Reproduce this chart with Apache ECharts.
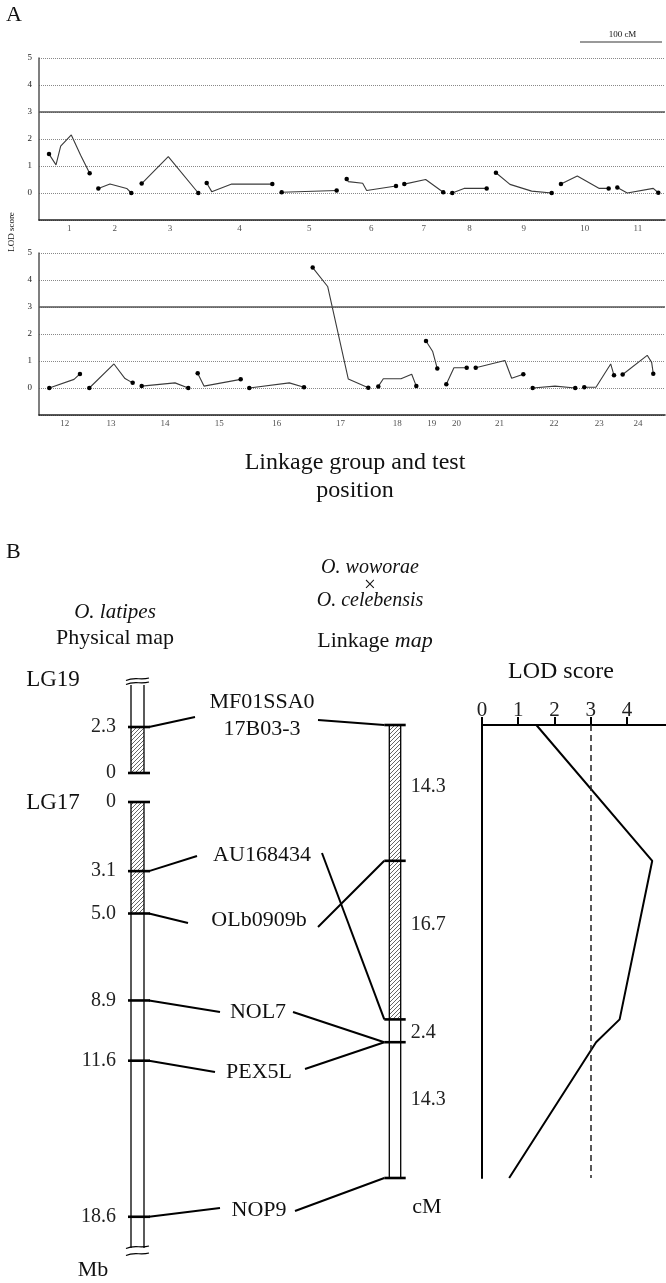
<!DOCTYPE html>
<html>
<head>
<meta charset="utf-8">
<script src="https://cdn.jsdelivr.net/npm/echarts@6/dist/echarts.min.js"></script>
<style>
  html, body { margin: 0; padding: 0; background: #fff; }
  #chart { width: 666px; height: 1283px; }
</style>
</head>
<body>
<div id="chart"></div>
<script>
// ---------- panel A: LOD profile along each linkage group, [test position (cM), LOD] ----------
const groupsTop = ['1', '2', '3', '4', '5', '6', '7', '8', '9', '10', '11'];
const groupsBottom = ['12', '13', '14', '15', '16', '17', '18', '19', '20', '21', '22', '23', '24'];

const lodTop = [
  [[11.8, 1.44], [20.0, 1.04], [25.5, 1.74], [38.0, 2.15], [49.0, 1.40], [59.6, 0.73]],
  [[69.8, 0.17], [83.5, 0.33], [103.2, 0.17], [108.6, 0.0]],
  [[120.8, 0.35], [152.1, 1.35], [187.4, 0.0]],
  [[197.3, 0.37], [203.2, 0.05], [226.7, 0.33], [274.5, 0.33]],
  [[285.5, 0.03], [350.2, 0.09]],
  [[362.0, 0.52], [363.9, 0.42], [380.8, 0.36], [385.5, 0.09], [420.0, 0.26]],
  [[429.8, 0.33], [454.9, 0.50], [475.6, 0.03]],
  [[486.2, 0.0], [500.0, 0.17], [526.7, 0.17]],
  [[537.6, 0.75], [554.1, 0.32], [579.6, 0.07], [603.2, 0.0]],
  [[614.1, 0.33], [633.3, 0.63], [659.2, 0.17], [670.2, 0.17]],
  [[680.4, 0.20], [692.1, 0.0], [722.7, 0.17], [728.6, 0.01]]
];

const lodBottom = [
  [[12.1, 0.0], [41.2, 0.32], [48.2, 0.52]],
  [[59.2, 0.0], [88.2, 0.89], [101.2, 0.35], [110.2, 0.19]],
  [[120.8, 0.07], [160.0, 0.19], [175.6, 0.0]],
  [[186.7, 0.55], [194.1, 0.07], [237.3, 0.32]],
  [[247.4, 0.0], [294.5, 0.19], [311.8, 0.03]],
  [[322.0, 4.46], [339.6, 3.76], [363.9, 0.33], [387.4, 0.01]],
  [[399.2, 0.06], [405.1, 0.34], [425.9, 0.34], [438.5, 0.51], [443.9, 0.07]],
  [[455.3, 1.74], [463.2, 1.35], [468.6, 0.72]],
  [[479.2, 0.14], [488.2, 0.75], [503.2, 0.75]],
  [[513.8, 0.75], [548.2, 1.02], [556.1, 0.36], [569.8, 0.51]],
  [[580.8, 0.0], [607.1, 0.07], [630.9, 0.0]],
  [[641.5, 0.03], [655.3, 0.03], [672.6, 0.89], [676.5, 0.47]],
  [[686.7, 0.50], [715.6, 1.21], [720.8, 0.95], [722.7, 0.53]]
];
const genomeCM = 736.5;       // total map length drawn across panel A
const scaleBarCM = 100;
const lodThreshold = 3;

// ---------- panel B: physical map (Mb) vs linkage map (cM) ----------
const lg19Span = [0, 4.4];
const lg19Hatch = [0, 2.3];
const lg19Ticks = [0, 2.3];
const lg17Span = [0, 20];
const lg17Hatch = [0, 5.0];
const lg17Ticks = [0, 3.1, 5.0, 8.9, 11.6, 18.6];

const markerNames = ['MF01SSA0\n17B03-3', 'AU168434', 'OLb0909b', 'NOL7', 'PEX5L', 'NOP9'];
const markerChrom = ['LG19', 'LG17', 'LG17', 'LG17', 'LG17', 'LG17'];
const markerMb = [2.3, 3.1, 5.0, 8.9, 11.6, 18.6];
const markerCM = [0, 31.0, 14.3, 33.4, 33.4, 47.7];

const linkSpan = [0, 47.7];
const linkHatch = [0, 31.0];
const linkTicks = [0, 14.3, 31.0, 33.4, 47.7];

const lodCM = [0, 14.3, 31.0, 33.4, 47.7];
const lodScore = [1.5, 4.7, 3.8, 3.15, 0.75];
const lodAxisTicks = [0, 1, 2, 3, 4];

// ---------- layout ----------
const FONT = '"Liberation Serif", "Times New Roman", serif';
const physBarW = 13;
const linkBarW = 11.4;
// name label centre and the two connector anchors next to it
const nameLayout = [
  {cx: 262, cy: 716, lx: 195, ly: 717, rx: 318, ry: 720},
  {cx: 262, cy: 855, lx: 197, ly: 856, rx: 322, ry: 853},
  {cx: 259, cy: 920, lx: 188, ly: 923, rx: 318, ry: 927},
  {cx: 258, cy: 1012, lx: 220, ly: 1012, rx: 293, ry: 1012},
  {cx: 259, cy: 1072, lx: 215, ly: 1072, rx: 305, ry: 1069},
  {cx: 259, cy: 1210, lx: 220, ly: 1208, rx: 295, ry: 1211}
];
const intervalShift = [-6, -15, 2, -10];

// hatch pattern for the shaded chromosome parts
const hatch = (function () {
  const c = document.createElement('canvas');
  c.width = 4; c.height = 4;
  const g = c.getContext('2d');
  g.strokeStyle = '#555';
  g.lineWidth = 0.9;
  g.beginPath();
  g.moveTo(0, 4); g.lineTo(4, 0);
  g.moveTo(-1, 1); g.lineTo(1, -1);
  g.moveTo(3, 5); g.lineTo(5, 3);
  g.stroke();
  return {image: c, repeat: 'repeat'};
})();

function mid(g) {
  return (g[0][0] + g[g.length - 1][0]) / 2;
}

function profileSeries(groups, names, idx) {
  let out = [];
  groups.forEach(g => {
    out.push({
      type: 'line', xAxisIndex: idx, yAxisIndex: idx, data: g,
      symbol: 'circle', showAllSymbol: true,
      symbolSize: (v, p) => (p.dataIndex === 0 || p.dataIndex === g.length - 1) ? 4.5 : 0,
      lineStyle: {color: '#3a3a3a', width: 1.1},
      itemStyle: {color: '#000'},
      silent: true, animation: false, z: 3
    });
  });
  // group names under the axis + the LOD 3 threshold line
  out.push({
    type: 'scatter', xAxisIndex: idx, yAxisIndex: idx,
    data: groups.map((g, i) => ({name: names[i], value: [mid(g), -1]})),
    symbolSize: 1, itemStyle: {color: 'rgba(0,0,0,0)'},
    label: {show: true, position: 'bottom', distance: 4, formatter: '{b}', fontSize: 9, color: '#222', fontFamily: FONT},
    silent: true, animation: false,
    markLine: {
      silent: true, symbol: 'none', animation: false, label: {show: false},
      lineStyle: {color: '#555', width: 1.6, type: 'solid'},
      data: [{yAxis: lodThreshold}]
    }
  });
  return out;
}

function chromSeries(gi, span, hatchRange, barW) {
  let segs = [[hatchRange[0], hatchRange[1], 1]];
  if (span[1] > hatchRange[1]) segs.push([hatchRange[1], span[1], 0]);
  return {
    type: 'custom', xAxisIndex: gi, yAxisIndex: gi, data: segs, silent: true, animation: false, clip: false,
    renderItem: (params, api) => {
      const a = api.coord([0.5, api.value(0)]);
      const b = api.coord([0.5, api.value(1)]);
      const x = a[0] - barW / 2, y = Math.min(a[1], b[1]), h = Math.abs(b[1] - a[1]);
      return {
        type: 'group', children: [
          {type: 'rect', shape: {x: x, y: y, width: barW, height: h}, style: {fill: api.value(2) ? hatch : '#fff'}},
          {type: 'line', shape: {x1: x, y1: y, x2: x, y2: y + h}, style: {stroke: '#000', lineWidth: 1.3}},
          {type: 'line', shape: {x1: x + barW, y1: y, x2: x + barW, y2: y + h}, style: {stroke: '#000', lineWidth: 1.3}}
        ]
      };
    }
  };
}

function tickSeries(gi, ticks, barW, extL, extR, labelGap) {
  return {
    type: 'custom', xAxisIndex: gi, yAxisIndex: gi, data: ticks.map(t => [t]), silent: true, animation: false, clip: false, z: 4,
    renderItem: (params, api) => {
      const v = api.value(0);
      const p = api.coord([0.5, v]);
      let ch = [{type: 'line', shape: {x1: p[0] - barW / 2 - extL, y1: p[1], x2: p[0] + barW / 2 + extR, y2: p[1]}, style: {stroke: '#000', lineWidth: 2.6}}];
      if (labelGap != null) {
        ch.push({type: 'text', x: p[0] - barW / 2 - labelGap, y: p[1],
          style: {text: v === 0 ? '0' : v.toFixed(1), align: 'right', verticalAlign: 'middle', font: '20px ' + FONT, fill: '#222'}});
      }
      return {type: 'group', children: ch};
    }
  };
}

function breakSeries(gi, pos, barW, offs) {
  return {
    type: 'custom', xAxisIndex: gi, yAxisIndex: gi, data: [[pos]], silent: true, animation: false, clip: false, z: 5,
    renderItem: (params, api) => {
      const p = api.coord([0.5, api.value(0)]);
      const w = barW / 2 + 5;
      return {
        type: 'group', children: offs.map(o => ({
          type: 'bezierCurve',
          shape: {x1: p[0] - w, y1: p[1] + o + 1.5, cpx1: p[0] - 3, cpy1: p[1] + o - 2.5, cpx2: p[0] + 3, cpy2: p[1] + o + 1.5, x2: p[0] + w, y2: p[1] + o - 1},
          style: {stroke: '#000', lineWidth: 1.2, fill: null}
        }))
      };
    }
  };
}

function intervalSeries(gi, ticks, barW) {
  let data = [];
  for (let i = 0; i < ticks.length - 1; i++) data.push([(ticks[i] + ticks[i + 1]) / 2, ticks[i + 1] - ticks[i]]);
  return {
    type: 'custom', xAxisIndex: gi, yAxisIndex: gi, data: data, silent: true, animation: false, clip: false,
    renderItem: (params, api) => {
      const p = api.coord([0.5, api.value(0)]);
      return {type: 'text', x: p[0] + barW / 2 + 10, y: p[1] + intervalShift[params.dataIndex],
        style: {text: api.value(1).toFixed(1), align: 'left', verticalAlign: 'middle', font: '20px ' + FONT, fill: '#222'}};
    }
  };
}

function profileX(gi) {
  return {gridIndex: gi, type: 'value', min: 0, max: genomeCM,
    axisLine: {show: true, onZero: false, lineStyle: {color: '#222', width: 1.6}},
    axisTick: {show: false}, axisLabel: {show: false}, splitLine: {show: false}};
}
function profileY(gi) {
  return {gridIndex: gi, type: 'value', min: -1, max: 5, interval: 1,
    axisLine: {show: true, lineStyle: {color: '#555', width: 1.5}},
    axisTick: {show: false},
    axisLabel: {fontSize: 9, color: '#222', fontFamily: FONT, margin: 7, formatter: v => v < 0 ? '' : String(v)},
    splitLine: {show: true, lineStyle: {color: '#888', type: 'dotted', width: 1}}};
}
function hiddenAxis(gi, min, max, inverse) {
  return {gridIndex: gi, type: 'value', min: min, max: max, inverse: !!inverse, show: false};
}

let chart = echarts.init(document.getElementById('chart'));

let option = {
  backgroundColor: '#fff',
  animation: false,
  grid: [
    {left: 39, top: 58, width: 626, height: 162},
    {left: 39, top: 253, width: 626, height: 162},
    {left: 117.5, top: 685, width: 40, height: 88},
    {left: 117.5, top: 802, width: 40, height: 446},
    {left: 375, top: 725, width: 40, height: 453},
    {left: 482, top: 725, width: 184, height: 453}
  ],
  xAxis: [
    profileX(0), profileX(1),
    hiddenAxis(2, 0, 1), hiddenAxis(3, 0, 1), hiddenAxis(4, 0, 1),
    {gridIndex: 5, type: 'value', position: 'top', min: 0, max: 5.08,
      axisLine: {show: true, onZero: false, lineStyle: {color: '#000', width: 2}},
      axisTick: {show: true, length: 8, customValues: lodAxisTicks, lineStyle: {color: '#000', width: 2}},
      axisLabel: {fontSize: 21, margin: 4, color: '#222', fontFamily: FONT, customValues: lodAxisTicks},
      splitLine: {show: false}}
  ],
  yAxis: [
    profileY(0), profileY(1),
    hiddenAxis(2, lg19Span[0], lg19Span[1], false),
    hiddenAxis(3, lg17Span[0], lg17Span[1], true),
    hiddenAxis(4, linkSpan[0], linkSpan[1], true),
    {gridIndex: 5, type: 'value', inverse: true, min: linkSpan[0], max: linkSpan[1],
      axisLine: {show: true, onZero: false, lineStyle: {color: '#000', width: 2}},
      axisTick: {show: false}, axisLabel: {show: false}, splitLine: {show: false}}
  ],
  series: [].concat(
    profileSeries(lodTop, groupsTop, 0),
    profileSeries(lodBottom, groupsBottom, 1),
    [
      chromSeries(2, lg19Span, lg19Hatch, physBarW),
      tickSeries(2, lg19Ticks, physBarW, 3, 6, 15),
      breakSeries(2, lg19Span[1], physBarW, [-2, -6]),
      chromSeries(3, lg17Span, lg17Hatch, physBarW),
      tickSeries(3, lg17Ticks, physBarW, 3, 6, 15),
      breakSeries(3, lg17Span[1], physBarW, [-1, 6]),
      chromSeries(4, linkSpan, linkHatch, linkBarW),
      tickSeries(4, linkTicks, linkBarW, 5, 5, null),
      intervalSeries(4, linkTicks, linkBarW),
      {
        type: 'line', xAxisIndex: 5, yAxisIndex: 5,
        data: lodCM.map((c, i) => [lodScore[i], c]),
        symbol: 'none', lineStyle: {color: '#000', width: 2}, silent: true, animation: false,
        markLine: {silent: true, symbol: 'none', animation: false, label: {show: false},
          lineStyle: {color: '#222', width: 1.5, type: [6, 4]}, data: [{xAxis: lodThreshold}]}
      }
    ]
  )
};
chart.setOption(option);

// ---------- texts and connector lines (anchored through the axes) ----------
function txt(x, y, s, size, extra) {
  return Object.assign({type: 'text', x: x, y: y, silent: true,
    style: Object.assign({text: s, align: 'center', verticalAlign: 'middle', font: size + 'px ' + FONT, fill: '#111'}, extra || {})});
}

let graphics = [
  txt(6, 15, 'A', 22, {align: 'left'}),
  txt(6, 552, 'B', 22, {align: 'left'}),
  Object.assign(txt(12, 232, 'LOD score', 9), {rotation: Math.PI / 2}),
  txt(355, 463, 'Linkage group and test', 24),
  txt(355, 491, 'position', 24),
  txt(115, 612, 'O. latipes', 21, {font: 'italic 21px ' + FONT}),
  txt(115, 638, 'Physical map', 22),
  txt(370, 568, 'O. woworae', 20, {font: 'italic 20px ' + FONT}),
  txt(370, 585, '×', 21),
  txt(370, 601, 'O. celebensis', 20, {font: 'italic 20px ' + FONT}),
  txt(375, 641, 'Linkage {i|map}', 22, {rich: {i: {fontStyle: 'italic', fontSize: 22, fontFamily: FONT}}}),
  txt(561, 672, 'LOD score', 24),
  txt(53, 680, 'LG19', 23),
  txt(53, 803, 'LG17', 23),
  txt(93, 1270, 'Mb', 22),
  txt(427, 1207, 'cM', 22)
];

// 100 cM scale bar, measured on the panel A axis
const s0 = chart.convertToPixel({gridIndex: 0}, [genomeCM - scaleBarCM, 0]);
const s1 = chart.convertToPixel({gridIndex: 0}, [genomeCM, 0]);
graphics.push({type: 'line', silent: true, shape: {x1: s0[0], y1: 42, x2: s1[0] - 3, y2: 42}, style: {stroke: '#777', lineWidth: 1.5}});
graphics.push(txt((s0[0] + s1[0]) / 2, 35, '100 cM', 9));

markerNames.forEach((name, i) => {
  const L = nameLayout[i];
  const gi = markerChrom[i] === 'LG19' ? 2 : 3;
  const p = chart.convertToPixel({gridIndex: gi}, [0.5, markerMb[i]]);
  const q = chart.convertToPixel({gridIndex: 4}, [0.5, markerCM[i]]);
  let t = txt(L.cx, L.cy, name, 22);
  t.style.lineHeight = 27;
  graphics.push(t);
  graphics.push({type: 'line', silent: true, shape: {x1: p[0] + physBarW / 2 + 5, y1: p[1], x2: L.lx, y2: L.ly}, style: {stroke: '#000', lineWidth: 2}});
  graphics.push({type: 'line', silent: true, shape: {x1: L.rx, y1: L.ry, x2: q[0] - linkBarW / 2 - 5, y2: q[1]}, style: {stroke: '#000', lineWidth: 2}});
});

chart.setOption({graphic: graphics});
</script>
</body>
</html>
